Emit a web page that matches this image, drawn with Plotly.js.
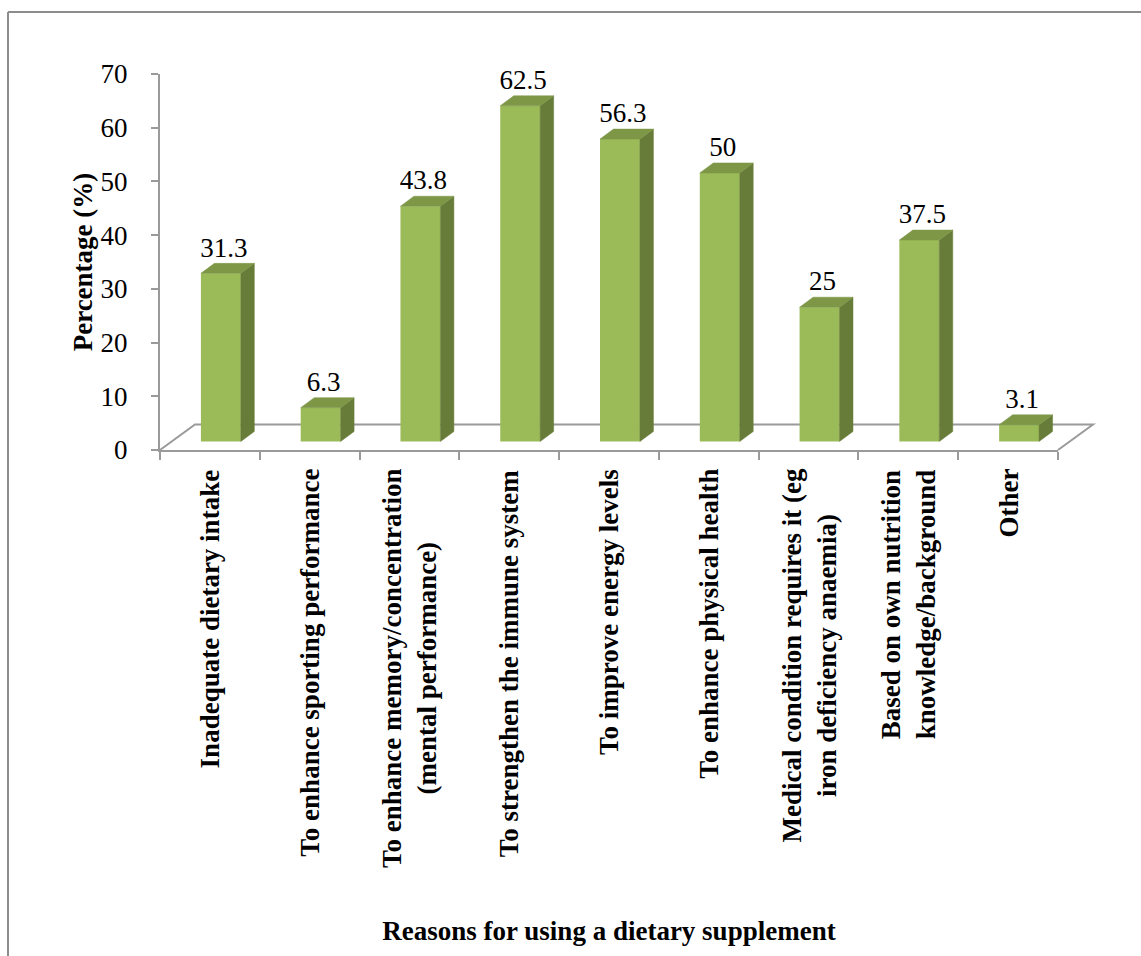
<!DOCTYPE html>
<html>
<head>
<meta charset="utf-8">
<script src="https://cdn.plot.ly/plotly-3.0.1.min.js"></script>
<style>
  html, body { margin: 0; padding: 0; background: #ffffff; }
  #chart { width: 1141px; height: 956px; }
</style>
</head>
<body>
<div id="chart"></div>
<script>
// ---- data ----
const categories = [
  "Inadequate dietary intake",
  "To enhance sporting performance",
  "To enhance memory/concentration<br>(mental performance)",
  "To strengthen the immune system",
  "To improve energy levels",
  "To enhance physical health",
  "Medical condition requires it (eg<br>iron deficiency anaemia)",
  "Based on own nutrition<br>knowledge/background",
  "Other"
];
const percentages = [31.3, 6.3, 43.8, 62.5, 56.3, 50, 25, 37.5, 3.1];
const valueLabels = ["31.3", "6.3", "43.8", "62.5", "56.3", "50", "25", "37.5", "3.1"];
const yTickValues = [0, 10, 20, 30, 40, 50, 60, 70];
const xTitle = "Reasons for using a dietary supplement";
const yTitle = "Percentage (%)";

// ---- styling / geometry (pixel-derived) ----
const FONT = "Liberation Serif, Times New Roman, serif";
const FRONT = "#9bbb59", SIDE = "#687c39", TOP = "#7d9747", AXIS = "#9a9a9a";
const W = 1141, H = 956;
const M = {l: 160, r: 83, t: 74, b: 506};
const plotW = W - M.l - M.r, plotH = H - M.t - M.b;
const pxPerCat = plotW / 9, pxPerUnit = plotH / 70;
const barOffset = -0.09, barWidth = 0.40;          // front face position in category units
const depthX = 13.5 / pxPerCat, depthY = 10 / pxPerUnit; // bar side depth
const baseLift = 8.5 / pxPerUnit;                   // bars sit on mid-depth of floor
const idx = categories.map((_, i) => i);

// side + top face polygons built from the data
const sideX = [], sideY = [], topX = [], topY = [];
idx.forEach(i => {
  const v = percentages[i];
  const xl = i + barOffset, xr = xl + barWidth;
  sideX.push(xr, xr + depthX, xr + depthX, xr, xr, null);
  sideY.push(0, depthY, v + depthY, v, 0, null);
  topX.push(xl, xr, xr + depthX, xl + depthX, xl, null);
  topY.push(v, v, v + depthY, v + depthY, v, null);
});

const traces = [
  // anchor trace so the visible value axis (y) is drawn
  {type: "scatter", mode: "markers", x: [null], y: [null], xaxis: "x", yaxis: "y",
   hoverinfo: "skip", showlegend: false},
  {type: "bar", x: idx, y: percentages, width: barWidth, offset: barOffset,
   xaxis: "x", yaxis: "y2", marker: {color: FRONT, line: {width: 0}}, hoverinfo: "skip"},
  {type: "scatter", mode: "lines", x: sideX, y: sideY, fill: "toself", fillcolor: SIDE,
   line: {color: SIDE, width: 0.5}, xaxis: "x", yaxis: "y2", hoverinfo: "skip"},
  {type: "scatter", mode: "lines", x: topX, y: topY, fill: "toself", fillcolor: TOP,
   line: {color: TOP, width: 0.5}, xaxis: "x", yaxis: "y2", hoverinfo: "skip"},
  {type: "scatter", mode: "text", x: idx.map(i => i + barOffset + barWidth / 2 + 0.03),
   y: percentages.map(v => v + depthY), text: valueLabels, textposition: "top center",
   textfont: {family: FONT, size: 27, color: "#000"}, cliponaxis: false,
   xaxis: "x", yaxis: "y2", hoverinfo: "skip"}
];

// category labels below axis (centred multi-line, rotated)
const annotations = idx.map(i => ({
  x: i, xref: "x", y: -17 / plotH, yref: "paper",
  xanchor: "center", yanchor: "top", textangle: -90, align: "center",
  text: "<b>" + categories[i].replace("<br>", "</b><br><b>") + "</b>",
  showarrow: false, font: {family: FONT, size: 27, color: "#000"}
}));

// 3-D floor outline (decoration) in paper coordinates
const fx = 35 / plotW, fy = 25.5 / plotH;
const shapes = [
  {type: "path", xref: "paper", yref: "paper",
   path: `M 0 0 L ${fx} ${fy} L ${1 + fx} ${fy} L 1 0`,
   line: {color: AXIS, width: 2}, layer: "below"},
  // outer frame
  {type: "line", xref: "paper", yref: "paper", x0: (8 - M.l) / plotW, x1: (1160 - M.l) / plotW,
   y0: (M.t + plotH - 12) / plotH, y1: (M.t + plotH - 12) / plotH, line: {color: "#8c8c8c", width: 2}},
  {type: "line", xref: "paper", yref: "paper", x0: (8 - M.l) / plotW, x1: (8 - M.l) / plotW,
   y0: (M.t + plotH - 12) / plotH, y1: (M.t + plotH - 980) / plotH, line: {color: "#8c8c8c", width: 2}}
];

const layout = {
  width: W, height: H, margin: M,
  paper_bgcolor: "#fff", plot_bgcolor: "rgba(0,0,0,0)",
  showlegend: false, hovermode: false,
  font: {family: FONT, color: "#000"},
  xaxis: {
    type: "linear", range: [-0.5, 8.5], fixedrange: true,
    tickvals: idx.concat([idx.length]).map(i => i - 0.5), showticklabels: false,
    ticks: "outside", ticklen: 8, tickcolor: AXIS, tickwidth: 2,
    showline: true, linecolor: AXIS, linewidth: 2, showgrid: false, zeroline: false,
    title: {text: "<b>" + xTitle + "</b>", font: {family: FONT, size: 27, color: "#000"}, standoff: 462},
    automargin: false
  },
  yaxis: {
    range: [0, 70], tickvals: yTickValues, fixedrange: true,
    ticks: "outside", ticklen: 7, tickcolor: AXIS, tickwidth: 2, ticklabelstandoff: 18,
    tickfont: {family: FONT, size: 27, color: "#000"},
    showline: true, linecolor: AXIS, linewidth: 2, showgrid: false, zeroline: false,
    title: {text: "<b>" + yTitle + "</b>", font: {family: FONT, size: 27, color: "#000"}, standoff: 0},
    automargin: false
  },
  yaxis2: {
    overlaying: "y", range: [-baseLift, 70 - baseLift], visible: false, fixedrange: true
  },
  annotations: annotations,
  shapes: shapes
};

Plotly.newPlot("chart", traces, layout, {displayModeBar: false, staticPlot: true});
</script>
</body>
</html>
